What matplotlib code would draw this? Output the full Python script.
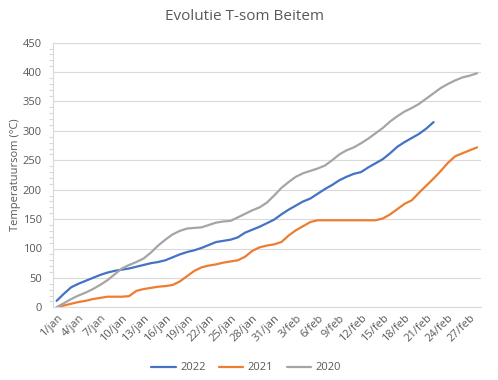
import matplotlib.pyplot as plt
from matplotlib.ticker import MultipleLocator

plt.rcParams['font.family'] = ['Open Sans', 'DejaVu Sans']

# day labels, 1 jan .. 28 feb
months = ['jan'] * 31 + ['feb'] * 28
days = list(range(1, 32)) + list(range(1, 29))
day_labels = [f'{d}/{m}' for d, m in zip(days, months)]

tsom_2022 = [11, 23, 34, 40, 45, 50, 55, 59, 62, 64, 66, 69, 72, 75, 77, 80, 85, 90, 94, 97,
             101, 106, 111, 113, 115, 119, 127, 132, 137, 143, 149, 158, 166, 173, 180, 185,
             193, 201, 208, 216, 222, 227, 230, 238, 245, 252, 262, 273, 281, 288, 295, 304, 315]
tsom_2021 = [0, 3, 6, 9, 11, 14, 16, 18, 18, 18, 19, 28, 31, 33, 35, 36, 38, 44, 53, 62,
             68, 71, 73, 76, 78, 80, 86, 96, 102, 105, 107, 111, 122, 131, 138, 145, 148, 148,
             148, 148, 148, 148, 148, 148, 148, 151, 158, 167, 176, 182, 195, 207, 219, 232,
             246, 257, 262, 267, 272]
tsom_2020 = [0, 7, 14, 20, 25, 31, 38, 46, 56, 66, 72, 77, 83, 93, 105, 115, 124, 130, 134,
             135, 136, 140, 144, 146, 147, 153, 159, 165, 170, 178, 190, 203, 213, 222, 228,
             232, 236, 241, 250, 260, 267, 272, 279, 287, 296, 305, 316, 325, 333, 339, 346,
             355, 364, 373, 380, 386, 391, 394, 398]

series = [('2022', tsom_2022, '#4472C4'),
          ('2021', tsom_2021, '#ED7D31'),
          ('2020', tsom_2020, '#A5A5A5')]

fig = plt.figure(figsize=(4.98, 3.8), dpi=100)
ax = fig.add_axes([53 / 498, 1 - 307.3 / 380, 427.7 / 498, 264.6 / 380])

for name, values, color in series:
    ax.plot(range(len(values)), values, color=color, lw=1.6, label=name,
            solid_joinstyle='round', solid_capstyle='round')

ax.set_xlim(-0.5, len(day_labels) - 0.5)
ax.set_ylim(0, 450)
ax.yaxis.set_major_locator(MultipleLocator(50))
ax.yaxis.set_minor_locator(MultipleLocator(10))
ax.grid(axis='y', color='#D9D9D9', lw=0.8)
ax.set_axisbelow(True)

for side in ['top', 'right']:
    ax.spines[side].set_visible(False)
ax.spines['bottom'].set_color('#D9D9D9')
ax.spines['left'].set_color('#D9D9D9')
ax.spines['left'].set_linewidth(0.8)
ax.spines['bottom'].set_linewidth(0.8)

ax.tick_params(axis='y', which='major', length=0, labelsize=8, labelcolor='#595959', pad=8)
ax.tick_params(axis='y', which='minor', length=3, color='#D9D9D9', width=0.8)
ax.tick_params(axis='x', length=0, labelsize=8, labelcolor='#595959', pad=4)

tick_pos = list(range(0, len(day_labels), 3))
ax.set_xticks(tick_pos)
ax.set_xticklabels([day_labels[i] for i in tick_pos], rotation=45, ha='right',
                   rotation_mode='anchor')

ax.set_ylabel('Temperatuursom (°C)', fontsize=8, color='#595959', labelpad=1)
fig.text(244.5 / 498, 1 - 17 / 380, 'Evolutie T-som Beitem', ha='center', va='center',
         fontsize=11, color='#595959')

fig.legend(loc='center', bbox_to_anchor=(246 / 498, 1 - 368 / 380), ncol=3, frameon=False,
           fontsize=8, handlelength=2.2, columnspacing=1.2, handletextpad=0.4,
           labelcolor='#595959')

fig.savefig('out.png', dpi=100)
